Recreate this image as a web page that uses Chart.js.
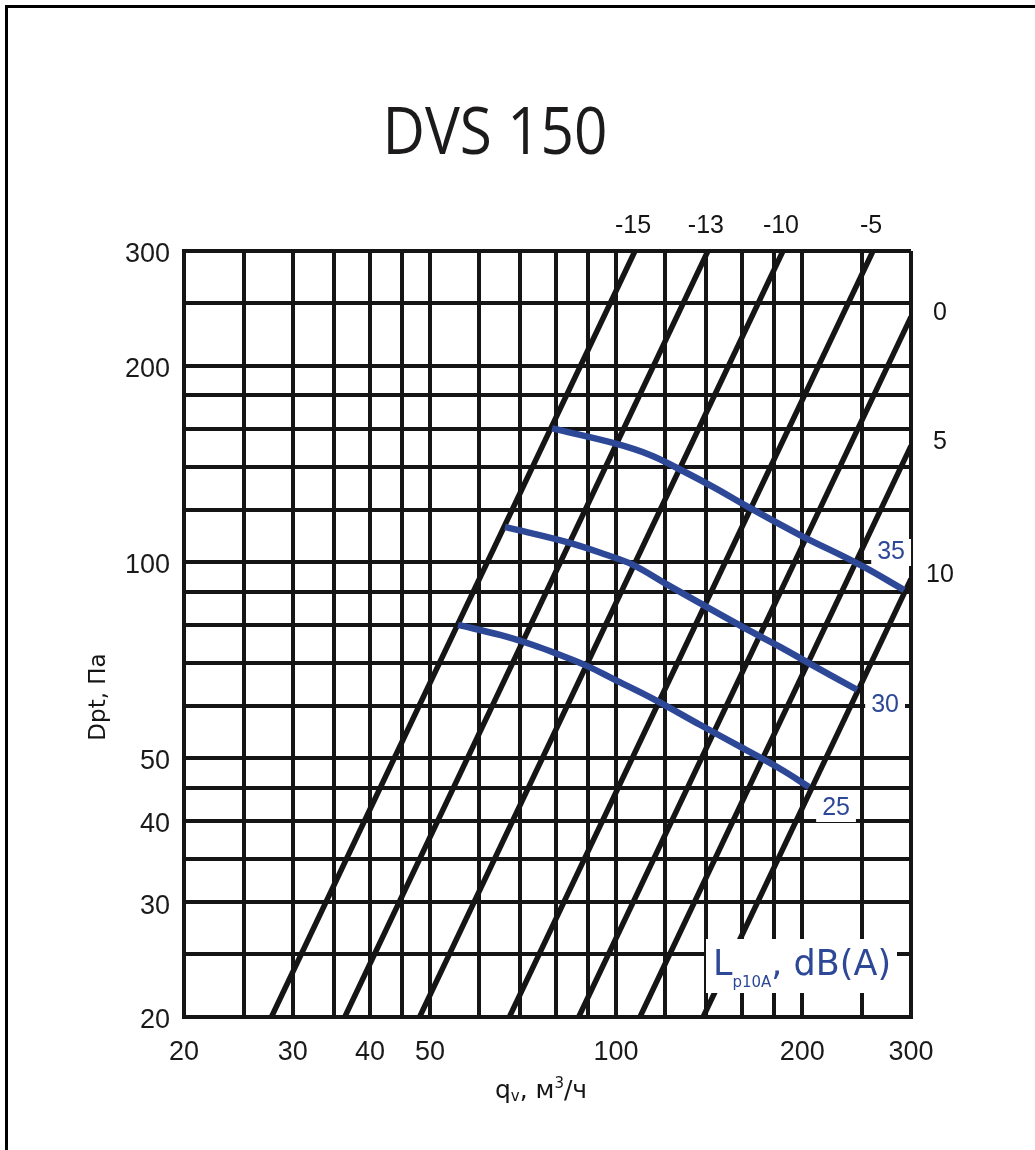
<!DOCTYPE html>
<html>
<head>
<meta charset="utf-8">
<title>DVS 150</title>
<script src="https://cdn.jsdelivr.net/npm/chart.js@4.4.1/dist/chart.umd.min.js"></script>
<style>
  html, body { margin: 0; padding: 0; background: #fff; }
  #chart { display: block; }
</style>
</head>
<body>
<canvas id="chart" width="1035" height="1150"></canvas>
<script>
/*=============== CHART DATA ===============*/
const chartTitle = 'DVS 150'

// grid steps of the log-log sheet (same on both axes)
const gridValues = [20, 25, 30, 35, 40, 45, 50, 60, 70, 80, 90, 100, 120, 140, 160, 180, 200, 250, 300]
const xTickLabels = [20, 30, 40, 50, 100, 200, 300]
const yTickLabels = [20, 30, 40, 50, 100, 200, 300]

// system lines (Dp ~ q^2), each marked with its correction
const fanLabels  = ['-15', '-13', '-10', '-5', '0', '5', '10']
const fanStartQ  = [27.7, 36.4, 48.1, 67.2, 87.0, 109.3, 138.3]
const fanStartDp = [20, 20, 20, 20, 20, 20, 20]
const fanEndQ    = [107.3, 140.8, 186.2, 260.4, 300, 300, 300]
const fanEndDp   = [300, 300, 300, 300, 237.6, 150.6, 94.1]

// sound level curves Lp10A, dB(A)
const curveLevels = ['25', '30', '35']
const curve25Q  = [55.5, 64.9, 73.4, 81.2, 89.7, 98.9, 114.8, 136.7, 158.7, 184.2, 205.2]
const curve25Dp = [80.0, 77.2, 74.5, 71.9, 69.2, 66.1, 61.6, 56.2, 52.0, 48.1, 45.1]
const curve30Q  = [66.1, 83.3, 96.7, 106.5, 120.6, 136.7, 163.5, 184.2, 206.0, 245.4]
const curve30Dp = [113.1, 107.2, 102.4, 98.9, 92.4, 86.4, 78.6, 74.0, 69.7, 63.6]
const curve35Q  = [78.8, 98.9, 113.5, 125.5, 143.5, 163.5, 198.4, 248.2, 292.4]
const curve35Dp = [160.2, 152.2, 145.9, 139.3, 130.3, 121.4, 109.9, 98.9, 90.5]

/*=============== STYLE ===============*/
const ink = '#151515'
const blue = '#2e4898'
const tickFont = { family: '"Liberation Sans", Arial, sans-serif', size: 27 }
const labelFont = '25px "Liberation Sans", Arial, sans-serif'
const sansFont = '"DejaVu Sans", Verdana, sans-serif'

const curveData = [[curve25Q, curve25Dp], [curve30Q, curve30Dp], [curve35Q, curve35Dp]]
// where each level number sits relative to the curve end (px)
const curveLabelShift = [[27, 21], [28, 15], [-13, -38]]

// draws a run of text pieces (main / sub / sup) starting at x
const drawRun = (ctx, parts, x, baseline) => {
  parts.forEach(p => {
    ctx.font = p.size + 'px ' + sansFont
    ctx.fillText(p.t, x, baseline + (p.dy || 0))
    x += ctx.measureText(p.t).width
  })
}
const runWidth = (ctx, parts) => parts.reduce((w, p) => {
  ctx.font = p.size + 'px ' + sansFont
  return w + ctx.measureText(p.t).width
}, 0)

/*=============== DECOR PLUGIN ===============*/
const decor = {
  id: 'decor',
  beforeDraw(chart) {
    const { ctx, width, height } = chart
    ctx.save()
    ctx.fillStyle = '#fff'
    ctx.fillRect(0, 0, width, height)
    // sheet frame, only left and top edges show
    ctx.fillStyle = '#000'
    ctx.fillRect(5, 5, width - 5, 3)
    ctx.fillRect(5, 5, 3, height - 5)
    ctx.restore()
  },
  afterDatasetsDraw(chart) {
    const { ctx, scales: { x, y } } = chart
    ctx.save()
    ctx.textAlign = 'center'
    ctx.textBaseline = 'middle'
    ctx.font = labelFont

    // level numbers at the curve ends, on white
    curveLevels.forEach((lvl, i) => {
      const [qs, dps] = curveData[i]
      const px = x.getPixelForValue(qs[qs.length - 1]) + curveLabelShift[i][0]
      const py = y.getPixelForValue(dps[dps.length - 1]) + curveLabelShift[i][1]
      const w = ctx.measureText(lvl).width + 12
      ctx.fillStyle = '#fff'
      ctx.fillRect(px - w / 2, py - 13, w, 27)
      ctx.fillStyle = blue
      ctx.fillText(lvl, px, py)
    })

    // Lp10A legend box
    ctx.fillStyle = '#fff'
    ctx.fillRect(706, 939, 191, 54)
    ctx.fillStyle = blue
    ctx.textAlign = 'left'
    ctx.textBaseline = 'alphabetic'
    drawRun(ctx, [
      { t: 'L', size: 35 },
      { t: 'p10A', size: 15, dy: 12 },
      { t: ', dB(A)', size: 35 }
    ], 713, 975)
    ctx.restore()
  },
  afterDraw(chart) {
    const { ctx, chartArea: area, scales: { x, y } } = chart
    ctx.save()
    ctx.fillStyle = ink

    // title, slightly narrowed
    ctx.font = '66px "Open Sans", ' + sansFont
    ctx.textAlign = 'center'
    ctx.textBaseline = 'alphabetic'
    const tw = ctx.measureText(chartTitle).width
    ctx.save()
    ctx.translate(495, 154)
    ctx.scale(225 / tw, 1)
    ctx.fillStyle = '#1c1a1a'
    ctx.fillText(chartTitle, 0, 0)
    ctx.restore()

    // system line marks
    ctx.font = labelFont
    ctx.textBaseline = 'middle'
    fanLabels.forEach((lbl, i) => {
      const px = x.getPixelForValue(fanEndQ[i])
      const py = y.getPixelForValue(fanEndDp[i])
      if (fanEndDp[i] >= 300) ctx.fillText(lbl, px - 2, area.top - 25)
      else ctx.fillText(lbl, area.right + 29, py - 4)
    })

    // axis titles
    ctx.textAlign = 'left'
    ctx.textBaseline = 'alphabetic'
    const xTitle = [
      { t: 'q', size: 25 },
      { t: 'v', size: 15, dy: 3 },
      { t: ', м', size: 25 },
      { t: '3', size: 15, dy: -10 },
      { t: '/ч', size: 25 }
    ]
    drawRun(ctx, xTitle, 541 - runWidth(ctx, xTitle) / 2, 1098)

    ctx.translate(105, 697)
    ctx.rotate(-Math.PI / 2)
    ctx.font = '23px ' + sansFont
    ctx.textAlign = 'center'
    ctx.fillText('Dpt, Па', 0, 0)
    ctx.restore()
  }
}

/*=============== DATASETS ===============*/
const fanDatasets = fanLabels.map((lbl, i) => ({
  label: lbl,
  data: [{ x: fanStartQ[i], y: fanStartDp[i] }, { x: fanEndQ[i], y: fanEndDp[i] }],
  showLine: true,
  borderColor: ink,
  borderWidth: 5.5,
  borderCapStyle: 'butt',
  pointRadius: 0,
  clip: 0,
  order: 2
}))

const curveDatasets = curveLevels.map((lvl, i) => ({
  label: lvl + ' dB(A)',
  data: curveData[i][0].map((q, j) => ({ x: q, y: curveData[i][1][j] })),
  showLine: true,
  borderColor: blue,
  borderWidth: 6.5,
  borderCapStyle: 'butt',
  tension: 0.4,
  pointRadius: 0,
  order: 1
}))

const gridOpts = { color: ink, lineWidth: 4, drawTicks: false }
const borderOpts = { display: true, color: ink, width: 4 }

new Chart(document.getElementById('chart'), {
  type: 'scatter',
  data: { datasets: [...curveDatasets, ...fanDatasets] },
  options: {
    responsive: false,
    animation: false,
    devicePixelRatio: 1,
    events: [],
    layout: { padding: { left: 0, top: 251, right: 124, bottom: 0 } },
    plugins: { legend: { display: false }, tooltip: { enabled: false }, title: { display: false } },
    scales: {
      x: {
        type: 'logarithmic',
        min: 20,
        max: 300,
        grid: gridOpts,
        border: borderOpts,
        afterBuildTicks: s => { s.ticks = gridValues.map(v => ({ value: v })) },
        afterFit: s => { s.height = 133 },
        ticks: {
          autoSkip: false,
          maxRotation: 0,
          padding: 19,
          color: '#1a1a1a',
          font: tickFont,
          callback: v => xTickLabels.includes(v) ? String(v) : ''
        }
      },
      y: {
        type: 'logarithmic',
        min: 20,
        max: 300,
        grid: gridOpts,
        border: borderOpts,
        afterBuildTicks: s => { s.ticks = gridValues.map(v => ({ value: v })) },
        afterFit: s => { s.width = 184 },
        ticks: {
          autoSkip: false,
          padding: 14,
          labelOffset: 4,
          color: '#1a1a1a',
          font: tickFont,
          callback: v => yTickLabels.includes(v) ? String(v) : ''
        }
      }
    }
  },
  plugins: [decor]
})
</script>
</body>
</html>
